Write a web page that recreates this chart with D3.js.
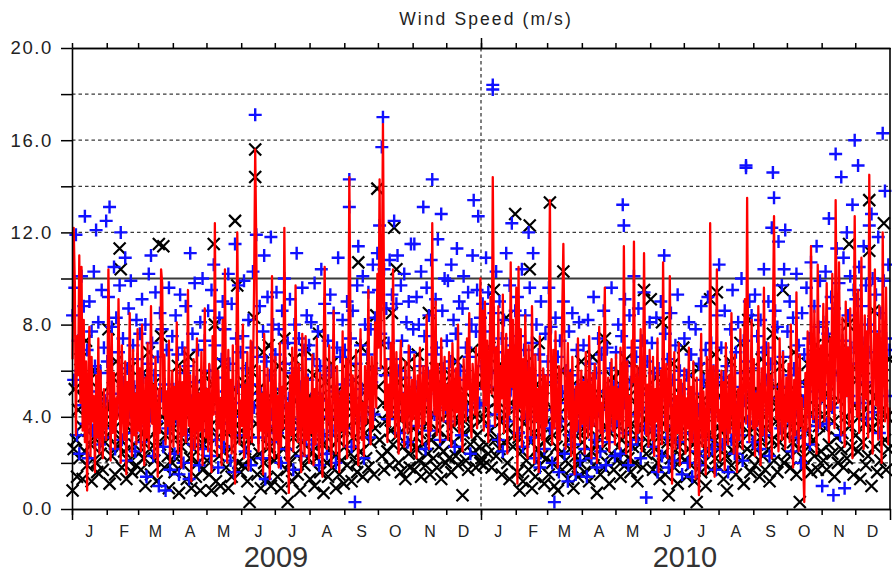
<!DOCTYPE html>
<html>
<head>
<meta charset="utf-8">
<script src="https://cdn.jsdelivr.net/npm/d3@7"></script>
<style>
  body { margin: 0; background: #fff; }
  svg { display: block; }
  text { font-family: "Liberation Sans", Arial, Helvetica, sans-serif; }
</style>
</head>
<body>
<svg id="chart" width="892" height="574"></svg>
<script>
// Daily mean wind speed (m/s), one value per day starting 1 Jan of each year
const speed2009 = [
  6.5,12.2,9.8,3.2,7.5,5.8,11.0,4.6,10.5,3.4,8.2,2.9,6.4,0.8,5.5,7.9,2.3,6.6,3.8,4.9,1.6,5.8,3.1,7.4,2.4,6.0,3.5,2.2,5.2,4.1,3.0,
  4.5,10.4,6.2,2.1,7.6,3.3,5.9,2.6,4.8,3.9,9.1,5.2,2.0,7.1,4.2,3.0,6.4,1.5,5.5,3.6,8.5,4.8,2.3,6.9,3.2,5.0,2.8,7.8,
  3.4,6.1,2.5,8.0,4.4,1.9,5.7,3.1,7.2,2.6,4.9,8.8,3.7,5.4,2.2,6.6,4.0,1.4,5.2,3.3,10.4,9.8,4.1,6.7,2.8,5.1,3.6,7.3,2.0,4.6,6.0,
  2.7,5.3,3.9,8.1,2.4,4.7,6.2,1.8,5.5,3.2,7.0,2.9,4.3,9.5,3.6,5.8,1.2,4.0,6.5,2.6,3.8,7.4,2.1,5.0,3.4,6.8,1.9,4.4,8.7,3.1,
  5.2,2.5,6.3,3.7,1.6,7.5,4.1,12.4,5.0,2.3,6.0,3.5,4.8,1.9,8.2,3.0,10.4,4.4,2.0,6.9,3.3,5.6,2.4,7.1,3.9,1.1,5.3,12.0,6.4,2.8,4.7,
  3.6,8.0,2.2,5.4,3.1,6.8,1.7,4.5,7.3,2.9,5.8,9.6,15.6,11.2,4.0,2.5,6.2,3.4,5.0,1.5,7.6,3.8,2.6,6.1,4.2,1.3,5.5,10.1,3.7,2.2,
  6.6,3.0,4.9,1.8,7.2,2.7,5.3,3.5,12.2,6.0,2.1,4.6,0.7,5.8,3.2,7.0,2.5,4.1,9.7,5.5,2.9,6.3,3.8,1.6,7.6,4.4,2.3,7.5,3.0,5.7,2.0,
  4.8,3.3,6.7,1.9,5.2,2.8,7.4,3.6,2.2,5.9,4.1,1.4,6.4,10.5,5.0,2.6,4.3,7.1,3.1,1.8,5.6,8.6,3.9,2.4,6.2,4.5,1.6,5.1,3.4,7.7,2.7,
  4.0,6.5,2.2,5.3,14.4,8.0,3.1,5.8,2.6,4.7,6.9,3.4,1.9,5.5,7.8,3.0,4.6,2.3,6.2,3.7,5.1,9.5,4.2,2.8,6.6,3.5,5.4,8.1,4.4,10.2,
  7.0,14.3,6.1,9.2,16.7,8.8,4.3,6.5,2.9,5.4,3.6,7.2,4.0,10.4,5.3,3.1,6.8,4.5,2.4,5.9,7.3,3.8,5.0,2.7,6.4,4.2,3.3,7.1,4.8,2.5,5.6,
  3.9,6.7,4.4,2.2,5.8,3.5,7.0,4.9,2.8,6.2,3.7,5.2,8.4,4.0,2.6,6.0,3.4,12.4,5.5,4.1,9.0,3.2,6.3,4.7,2.9,7.4,5.1,3.8,6.6,4.3,
  5.4,3.0,6.8,4.6,2.7,7.2,5.0,3.6,6.1,4.2,8.0,3.3,5.7,4.4,2.5,6.5,4.9,3.8,7.4,5.2,8.5,4.0,3.1,6.3,5.5,4.1,7.0,3.5,5.8,6.9,10.0
];
const speed2010 = [
  5.2,8.6,3.4,9.0,4.5,7.3,2.9,6.4,9.2,5.0,14.4,8.1,3.6,7.0,4.2,8.8,2.6,6.2,4.8,9.3,3.3,5.7,7.6,2.4,6.9,4.1,10.7,5.3,8.2,3.0,6.0,
  9.6,1.1,10.5,4.4,7.8,2.7,6.5,3.9,8.4,5.0,2.2,7.1,4.6,3.2,8.8,5.5,2.0,6.7,3.8,5.2,1.6,7.5,4.3,3.0,6.1,2.5,5.8,3.6,
  4.9,8.0,13.4,5.6,2.8,6.9,3.5,7.7,4.3,1.8,6.2,3.0,5.4,8.5,11.5,6.8,2.6,4.7,7.2,3.9,5.9,2.3,6.6,4.1,1.5,5.3,3.4,7.4,4.6,2.9,6.0,
  3.7,5.5,2.4,6.8,4.0,3.1,7.5,4.8,2.2,5.9,3.6,6.3,4.5,2.0,5.1,7.9,3.3,4.6,2.7,6.1,9.6,4.2,3.0,5.7,2.5,4.9,6.5,3.4,5.3,2.8,
  6.7,3.9,5.2,2.6,7.0,4.3,3.1,11.4,5.8,2.4,6.4,3.6,4.9,2.0,7.3,5.5,11.6,4.0,2.9,6.2,3.3,5.0,7.8,2.5,4.6,11.1,6.0,3.2,5.4,2.7,6.9,
  4.1,3.0,6.6,2.3,5.2,3.8,7.4,1.6,4.7,6.0,2.8,10.7,5.5,3.4,6.3,2.2,4.4,10.1,5.0,1.1,3.7,6.8,2.6,4.9,3.3,7.2,1.9,5.6,3.0,4.2,
  6.1,2.4,4.8,3.5,7.0,1.8,5.3,2.9,6.4,4.0,1.3,5.7,3.2,0.6,4.5,7.6,2.7,5.1,3.6,1.5,6.6,4.2,2.3,12.4,5.0,3.1,6.2,1.4,4.7,10.4,3.8,
  4.3,2.1,6.0,3.4,5.5,1.7,7.2,4.0,2.8,5.8,3.3,8.5,4.6,2.4,6.7,3.9,1.6,5.2,3.0,7.8,4.4,2.6,6.3,9.1,3.7,13.5,5.9,2.9,4.8,8.2,3.5,
  6.5,2.3,5.0,3.6,8.8,4.2,1.9,6.1,3.2,9.6,5.4,2.7,4.6,7.2,3.4,5.8,2.2,8.1,12.7,6.0,3.9,5.1,2.5,7.4,4.5,3.0,6.8,4.0,2.6,5.7,
  3.8,6.3,2.9,8.0,4.4,1.8,5.6,3.2,9.4,5.0,2.5,6.7,3.6,4.8,2.0,0.3,5.9,3.4,7.7,4.6,2.8,11.4,6.2,3.9,8.6,5.2,2.4,10.6,6.4,3.5,7.1,
  4.7,8.9,3.8,6.5,9.8,5.1,2.9,7.4,4.3,10.2,6.0,3.5,13.4,7.8,4.6,10.7,5.5,3.2,8.3,6.1,2.7,9.0,4.9,7.0,3.6,8.7,5.4,2.2,6.8,12.7,
  7.2,4.0,9.5,3.3,6.6,10.9,5.2,2.6,8.4,4.8,7.7,3.1,14.5,9.2,5.8,2.4,6.9,10.4,4.5,7.6,3.0,8.8,5.6,2.0,12.0,6.3,3.8,9.6,5.0,2.8,4.4
];

// Daily readings drawn as black crosses
const cross2009 = [
  0.8,2.6,5.2,3.0,1.4,4.3,2.2,6.5,3.6,1.3,4.9,2.5,7.3,1.9,3.4,5.6,2.8,1.2,4.0,3.1,6.0,2.0,1.6,4.6,3.3,2.4,5.0,1.7,3.8,2.9,4.4,
  3.2,7.8,1.1,4.5,2.3,5.7,3.5,1.5,6.4,2.7,4.1,11.3,3.0,1.8,5.1,2.5,3.9,1.3,4.7,2.1,6.1,3.4,1.6,4.2,2.8,5.3,1.9,3.6,
  2.4,4.8,1.7,3.3,5.9,2.2,1.0,4.4,3.0,6.8,2.6,1.5,3.9,5.4,2.1,4.6,1.2,3.5,11.5,2.8,7.5,4.0,11.4,1.8,3.2,5.0,2.3,0.9,4.3,3.6,2.0,
  4.9,1.6,3.1,2.4,6.2,0.7,3.8,2.7,5.3,1.9,4.1,2.9,1.3,3.4,6.6,2.2,0.9,4.5,2.6,3.7,1.4,5.1,2.0,3.2,0.8,4.6,1.7,2.8,5.8,3.0,
  2.1,4.0,1.5,3.6,0.8,5.4,11.5,8.0,1.2,3.1,4.7,2.3,1.0,3.9,6.3,2.5,4.4,1.8,3.3,0.9,5.0,2.6,1.4,3.5,5.2,12.5,4.2,9.7,2.0,3.0,1.6,
  3.4,1.9,5.5,2.6,4.1,1.2,3.0,0.3,6.0,2.2,4.6,8.3,15.6,3.7,1.5,5.2,2.4,0.9,3.9,6.8,2.0,4.4,1.3,3.2,7.1,2.7,1.0,4.8,3.5,2.1,
  4.5,2.3,1.4,6.2,3.3,0.9,5.0,2.6,7.4,3.8,1.7,0.3,4.2,2.0,5.6,1.2,3.1,6.5,2.4,4.7,1.5,3.6,0.8,5.3,2.9,4.0,1.9,6.9,3.4,2.2,4.9,
  1.3,3.7,2.5,5.8,1.0,4.3,2.2,3.5,7.6,1.6,4.9,2.8,0.7,3.2,5.5,2.0,1.4,4.1,2.6,6.3,1.8,3.9,2.3,0.9,5.1,3.0,1.5,4.5,2.1,3.4,1.1,
  2.7,4.8,1.9,3.6,6.4,2.4,1.2,4.2,3.1,5.6,2.0,1.6,10.7,3.9,2.5,7.0,1.4,4.6,3.3,2.2,5.2,1.8,3.8,2.9,6.1,4.0,1.5,3.5,8.4,13.9,
  5.3,3.0,7.2,2.3,4.6,1.7,3.8,6.0,2.5,4.2,1.9,3.4,8.5,2.8,12.2,4.9,10.4,3.2,2.0,5.5,1.6,3.9,2.7,4.4,1.3,3.6,6.3,2.4,1.8,4.1,2.9,
  3.5,1.7,4.8,2.6,6.7,2.1,3.3,1.4,5.0,2.8,4.3,1.9,3.7,2.4,8.5,1.5,3.0,5.6,2.2,4.1,6.1,1.8,3.4,2.7,4.7,1.3,3.9,2.5,5.3,2.0,
  3.1,4.5,2.2,5.8,1.6,3.6,2.9,4.9,2.3,6.4,1.9,3.8,2.6,4.2,0.6,3.3,5.1,2.1,3.9,1.7,4.6,2.8,3.5,6.9,2.4,4.0,1.8,3.2,5.4,2.7,2.0
];
const cross2010 = [
  2.2,3.9,1.9,5.6,2.8,4.3,2.4,7.0,3.4,1.8,5.2,9.5,3.0,2.3,4.7,6.2,2.6,3.8,1.5,5.0,2.9,4.1,8.3,2.0,3.5,1.3,4.6,6.6,2.7,3.2,12.8,
  4.4,1.6,3.1,0.8,5.9,2.5,1.2,3.7,6.3,2.1,4.0,1.7,12.3,2.9,0.9,4.5,3.3,1.4,5.4,2.6,7.2,1.9,3.6,2.3,4.8,1.1,3.0,2.2,
  3.8,1.5,13.3,4.4,2.0,3.2,1.0,5.6,2.7,0.8,4.1,2.4,6.0,1.7,10.3,3.5,2.1,4.9,1.3,3.0,2.6,5.3,1.8,0.9,3.9,2.3,4.6,1.4,3.3,2.0,6.4,
  2.9,4.7,1.6,3.4,2.2,5.5,1.2,3.8,2.5,6.6,1.9,4.2,2.8,0.7,3.1,5.0,1.5,2.6,4.5,1.8,7.4,3.6,2.0,4.8,1.1,3.3,2.4,5.7,1.7,3.9,
  4.3,2.1,3.6,5.9,1.4,3.0,2.5,4.6,1.9,6.5,3.3,2.2,4.9,1.6,3.7,2.7,5.4,2.0,3.2,1.2,4.4,2.8,6.0,3.5,1.8,9.5,3.9,2.4,5.1,2.9,4.0,
  9.1,3.4,1.7,4.8,2.6,5.7,2.0,3.1,1.3,4.3,8.1,2.4,3.7,1.5,5.2,2.9,0.6,4.0,2.2,3.5,6.3,1.8,3.0,4.6,1.1,2.7,5.0,2.3,3.8,7.0,
  2.1,4.5,1.4,3.3,2.6,5.8,1.9,3.9,2.8,1.2,4.2,0.3,3.0,6.1,2.4,1.6,4.7,2.0,3.6,1.0,5.4,2.5,3.2,9.1,1.7,4.4,2.9,6.7,2.2,9.4,3.5,
  1.8,4.9,2.7,3.4,1.3,5.6,2.3,0.8,4.1,3.0,6.4,1.9,3.7,2.5,5.0,1.5,4.3,2.8,3.6,7.2,2.1,4.6,1.1,3.9,5.8,2.6,8.2,3.3,1.6,4.8,2.4,
  3.6,1.9,5.2,2.8,4.4,1.4,3.1,6.5,2.3,4.0,1.7,3.5,5.7,2.6,1.2,4.7,3.0,7.6,2.1,5.3,3.8,1.6,4.5,2.9,6.2,3.4,9.5,2.0,4.1,3.2,
  2.4,5.1,3.7,1.8,4.6,2.9,6.8,3.3,1.5,4.2,2.6,0.3,3.9,5.5,2.2,4.8,1.9,3.4,6.3,2.7,4.1,1.6,5.7,3.0,2.3,7.1,4.4,1.7,3.6,5.2,2.5,
  4.0,2.1,6.5,3.5,1.7,5.0,2.8,4.3,7.4,2.4,3.8,1.4,5.9,3.1,2.0,4.7,6.9,2.6,3.3,1.8,5.3,4.0,2.2,8.0,11.5,3.6,2.7,6.2,1.5,4.5,
  3.2,5.6,2.5,7.0,1.3,4.1,2.9,6.1,3.7,1.9,5.2,2.3,13.4,4.6,1.0,3.5,8.6,2.7,4.9,1.6,3.8,6.7,2.1,4.3,5.8,12.4,3.0,1.7,4.0,2.6,6.5
];
// Second readings on a few days: [day of record, speed]
const crossExtra = [[43, 10.4], [163, 14.4], [408, 10.4], [711, 11.2]];

// Daily readings drawn as blue plus signs
const plus2009 = [
  8.4,5.6,9.6,11.9,3.2,7.3,2.4,6.0,10.1,4.5,8.8,12.7,3.7,6.9,2.2,9.0,5.1,7.7,3.4,10.3,6.2,12.1,4.0,8.1,2.8,5.9,9.5,3.1,7.0,4.7,12.5,
  6.4,9.2,13.1,3.5,7.9,5.0,10.5,2.6,8.3,4.4,6.8,9.7,12.0,3.0,7.4,5.5,10.9,2.1,6.1,8.7,4.2,9.9,3.3,7.1,5.3,2.5,8.2,6.5,
  4.6,7.6,2.9,9.1,5.7,3.6,8.0,1.4,6.3,10.2,4.1,11.0,7.2,2.3,5.8,9.4,3.8,6.6,1.0,8.5,4.9,7.8,2.7,5.4,0.8,6.9,3.5,9.6,1.7,4.8,7.5,
  5.2,2.4,8.4,3.9,6.7,1.5,9.3,4.3,7.0,2.0,5.9,8.8,3.2,6.2,1.3,11.1,4.7,7.6,2.8,9.8,5.5,3.6,6.9,1.9,8.1,4.4,10.0,2.6,7.3,5.0,
  3.4,8.6,6.0,2.3,9.5,4.9,10.6,7.1,3.0,5.7,1.8,8.3,4.2,6.5,9.0,2.7,7.8,5.1,3.7,10.2,6.3,2.1,8.9,4.6,1.6,11.5,7.4,5.3,9.7,3.2,6.8,
  4.0,7.5,9.9,2.5,6.1,3.8,8.2,5.4,1.9,7.0,10.3,4.4,17.1,11.9,6.6,3.1,8.8,5.0,2.2,7.7,11.0,1.3,6.4,9.2,3.6,5.8,11.8,4.1,8.0,2.9,
  6.7,9.4,3.3,7.8,5.2,2.0,8.6,4.5,10.0,6.3,2.6,7.2,4.8,9.1,3.5,5.9,1.7,8.0,6.1,11.1,3.9,7.4,5.3,2.3,9.6,4.2,6.9,3.0,8.4,5.6,7.1,
  4.3,8.1,2.8,6.5,9.8,3.6,5.0,7.7,1.9,6.2,10.4,4.7,3.2,8.9,5.8,2.4,7.3,4.0,9.3,6.0,3.4,8.5,5.1,2.0,7.0,10.9,4.6,6.6,3.7,8.2,5.4,
  6.9,3.5,9.0,5.6,14.3,7.4,2.7,8.6,4.8,0.3,6.3,9.7,11.4,3.9,7.1,5.2,10.1,2.2,8.0,4.4,6.7,9.4,3.1,7.8,5.5,10.6,4.1,8.3,6.1,11.1,
  9.5,12.3,7.6,15.7,17.0,10.4,5.8,8.7,3.9,7.2,10.8,5.0,9.3,6.5,12.5,4.2,8.9,11.0,6.0,3.3,9.7,7.3,4.8,10.2,5.7,8.1,2.9,9.0,6.8,11.5,4.5,
  7.8,11.5,5.3,9.2,3.6,8.0,6.2,10.3,4.7,13.1,7.5,2.6,9.6,5.9,8.4,3.4,10.8,14.3,6.7,4.1,9.1,7.0,11.7,5.0,3.0,12.8,8.6,6.1,10.0,4.4,
  7.3,9.9,3.8,6.4,10.6,5.1,8.2,2.7,7.6,11.3,4.9,9.0,6.0,3.2,8.7,10.1,5.6,7.0,4.3,9.4,6.6,2.4,8.0,11.0,13.4,5.2,7.7,9.5,12.7,4.6,8.3
];
const plus2010 = [
  6.2,8.9,4.5,7.7,10.9,5.3,9.4,3.6,7.0,5.9,18.4,8.5,4.1,10.3,6.8,3.0,9.0,5.6,7.4,2.5,8.2,4.9,11.1,6.5,3.8,9.7,5.2,12.4,7.1,4.4,8.6,
  5.7,9.2,3.3,7.5,4.8,10.4,2.7,6.9,8.4,4.0,6.1,12.0,9.6,3.1,7.2,11.1,5.0,2.2,8.0,4.6,6.7,1.8,9.0,3.9,5.8,2.6,7.6,4.3,
  6.4,9.6,3.5,7.9,2.0,5.5,0.3,8.3,4.2,6.6,1.6,7.3,3.8,5.1,9.0,2.4,6.0,4.6,1.2,7.7,3.2,5.8,8.5,2.8,4.9,1.5,6.9,3.6,8.1,2.1,5.4,
  4.0,7.1,2.6,5.6,1.4,8.2,3.7,6.3,2.2,4.8,9.2,3.0,5.9,1.8,7.4,4.3,2.5,6.7,3.4,8.6,5.1,1.9,7.0,4.5,2.9,6.1,9.6,3.6,5.3,2.3,
  6.8,3.9,8.0,5.2,2.4,7.5,13.2,4.6,9.1,3.3,6.2,1.9,8.4,5.5,2.8,7.0,10.1,4.1,6.6,3.0,8.7,5.8,2.2,7.3,4.4,9.4,3.5,0.5,6.4,5.0,8.1,
  4.3,7.2,2.7,5.9,3.4,8.3,1.6,6.1,4.0,9.0,2.3,5.4,11.0,7.6,3.1,6.5,1.8,4.7,8.5,3.6,5.6,2.1,7.1,4.5,9.3,2.9,6.0,3.8,1.5,5.2,
  7.4,3.3,5.8,2.0,8.1,4.6,6.7,1.4,5.0,3.2,7.8,2.5,4.3,6.3,1.9,8.8,3.7,5.6,2.3,6.9,4.2,9.2,3.0,5.3,7.2,2.6,6.0,4.8,1.7,8.4,5.5,
  10.6,4.0,7.0,2.8,5.7,8.6,3.5,6.2,1.6,4.9,7.8,3.0,9.5,5.3,2.4,6.8,4.4,8.1,3.2,5.9,10.0,2.1,7.3,4.7,14.8,6.4,3.8,9.0,5.1,8.4,2.9,
  6.1,9.3,3.7,7.5,5.0,2.6,8.2,4.3,6.8,10.4,3.2,7.0,5.6,9.0,2.3,6.3,12.2,14.6,13.5,8.6,4.8,7.9,11.6,5.3,3.5,9.7,6.6,10.4,12.1,4.5,
  7.7,3.9,9.0,5.8,2.5,8.3,6.1,4.2,10.2,3.1,7.1,5.3,2.0,8.5,4.7,6.7,3.4,9.6,5.5,7.4,2.8,10.7,6.2,4.0,8.8,5.1,11.4,3.6,7.9,9.9,4.8,
  1.0,8.1,5.4,10.3,3.7,7.6,12.6,6.0,9.2,4.4,0.6,8.7,15.4,11.3,5.8,9.8,3.2,14.4,7.3,10.9,0.9,6.5,12.0,8.4,4.9,10.1,7.0,13.2,9.5,16.0,
  9.1,6.3,14.9,10.5,4.6,8.8,7.2,11.4,5.5,9.7,3.9,8.0,12.3,6.8,12.8,10.0,4.2,7.7,9.3,5.7,11.8,3.3,8.5,6.2,16.3,9.9,13.8,7.4,4.9,10.6,6.9
];
const plusExtra = [[247, 13.1], [375, 18.2], [492, 12.3], [601, 14.9]];

const monthLetters = ["J", "F", "M", "A", "M", "J", "J", "A", "S", "O", "N", "D"];
const yearLabels = ["2009", "2010"];
const speedTicks = [0, 2, 4, 6, 8, 10, 12, 14, 16, 18, 20];
const chartTitle = "Wind Speed (m/s)";

// ---- layout ----
const plot = { left: 72, right: 890, top: 48, bottom: 509 };
const svg = d3.select("#chart");

const dayDate = i => new Date(Date.UTC(2009, 0, 1 + i, 12));
const x = d3.scaleUtc()
  .domain([new Date(Date.UTC(2009, 0, 1)), new Date(Date.UTC(2011, 0, 1))])
  .range([plot.left, plot.right]);
const y = d3.scaleLinear().domain([0, 20]).range([plot.bottom, plot.top]);

const toPoints = arr => {
  const out = [];
  for (let i = 0; i < arr.length; i++) if (arr[i] != null) out.push({ t: dayDate(i), v: arr[i] });
  return out;
};
const speedPts = toPoints(speed2009.concat(speed2010));
const crossPts = toPoints(cross2009.concat(cross2010))
  .concat(crossExtra.map(([d, v]) => ({ t: dayDate(d), v })));
const plusPts = toPoints(plus2009.concat(plus2010))
  .concat(plusExtra.map(([d, v]) => ({ t: dayDate(d), v })));

// ---- grid ----
const grid = svg.append("g");
grid.selectAll("line.h")
  .data(speedTicks.filter(v => v > 0 && v < 20))
  .join("line")
  .attr("x1", plot.left).attr("x2", plot.right)
  .attr("y1", d => y(d)).attr("y2", d => y(d))
  .attr("stroke", "#3a3a3a")
  .attr("stroke-width", d => d === 10 ? 1.8 : 1.3)
  .attr("stroke-dasharray", d => d === 10 ? null : "3.5,3");
grid.append("line")
  .attr("x1", x(new Date(Date.UTC(2010, 0, 1)))).attr("x2", x(new Date(Date.UTC(2010, 0, 1))))
  .attr("y1", plot.top).attr("y2", plot.bottom)
  .attr("stroke", "#3a3a3a").attr("stroke-width", 1.3).attr("stroke-dasharray", "3.5,3");

// ---- markers ----
svg.append("g").selectAll("path")
  .data(crossPts)
  .join("path")
  .attr("transform", d => `translate(${x(d.t)},${y(d.v)})`)
  .attr("d", "M-6,-6L6,6M-6,6L6,-6")
  .attr("stroke", "#000").attr("stroke-width", 2.2).attr("fill", "none");

svg.append("g").selectAll("path")
  .data(plusPts)
  .join("path")
  .attr("transform", d => `translate(${x(d.t)},${y(d.v)})`)
  .attr("d", "M-6.5,0H6.5M0,-6.5V6.5")
  .attr("stroke", "#1010ff").attr("stroke-width", 2.4).attr("fill", "none");

// ---- daily mean line ----
svg.append("path")
  .datum(speedPts)
  .attr("d", d3.line().x(d => x(d.t)).y(d => y(d.v)))
  .attr("fill", "none").attr("stroke", "#ff0000").attr("stroke-width", 2.3)
  .attr("stroke-linejoin", "round");

// ---- axes ----
const styleAxis = g => {
  g.selectAll("path.domain").attr("stroke", "#000").attr("stroke-width", 1.6);
  g.selectAll(".tick line").attr("stroke", "#000").attr("stroke-width", 1.5);
};

svg.append("g")
  .attr("transform", `translate(${plot.left},0)`)
  .call(d3.axisLeft(y).tickValues(speedTicks).tickSize(11).tickSizeOuter(0).tickPadding(8)
    .tickFormat(d => d % 4 === 0 ? d3.format(".1f")(d) : ""))
  .call(styleAxis)
  .call(g => g.selectAll("text").attr("font-size", 18.5).attr("fill", "#222")
    .attr("letter-spacing", 1.6).attr("font-family", "Liberation Sans, Arial, sans-serif"));

const monthStarts = d3.utcMonth.range(new Date(Date.UTC(2009, 0, 1)), new Date(Date.UTC(2011, 0, 1)));
const yearStarts = [0, 1, 2].map(k => new Date(Date.UTC(2009 + k, 0, 1)));

svg.append("g")
  .attr("transform", `translate(0,${plot.bottom})`)
  .call(d3.axisBottom(x).tickValues(monthStarts).tickSize(6).tickSizeOuter(0).tickFormat(""))
  .call(styleAxis);
svg.append("g")
  .attr("transform", `translate(0,${plot.bottom})`)
  .call(d3.axisBottom(x).tickValues(yearStarts).tickSize(11).tickSizeOuter(0).tickFormat(""))
  .call(styleAxis);

svg.append("g")
  .attr("transform", `translate(0,${plot.top})`)
  .call(d3.axisTop(x).tickValues(monthStarts).tickSize(5).tickSizeOuter(0).tickFormat(""))
  .call(styleAxis);
svg.append("g")
  .attr("transform", `translate(0,${plot.top})`)
  .call(d3.axisTop(x).tickValues([yearStarts[1]]).tickSize(10).tickSizeOuter(0).tickFormat(""))
  .call(styleAxis);

svg.append("line")
  .attr("x1", plot.right).attr("x2", plot.right)
  .attr("y1", plot.top).attr("y2", plot.bottom)
  .attr("stroke", "#000").attr("stroke-width", 1.6);

// month initials centred in each month
const monthMids = monthStarts.map(d => new Date(d.getTime() + 15 * 864e5));
svg.append("g")
  .attr("transform", `translate(0,${plot.bottom})`)
  .call(d3.axisBottom(x).tickValues(monthMids).tickSize(0).tickPadding(17)
    .tickFormat(d => monthLetters[d.getUTCMonth()]))
  .call(g => g.select("path.domain").remove())
  .call(g => g.selectAll("text").attr("font-size", 16).attr("fill", "#222")
    .attr("font-family", "Liberation Sans, Arial, sans-serif"));

// year labels
svg.append("g").selectAll("text")
  .data(yearLabels)
  .join("text")
  .attr("x", (d, i) => x(new Date(Date.UTC(2009 + i, 6, 2))))
  .attr("y", 567)
  .attr("text-anchor", "middle")
  .attr("font-size", 29)
  .attr("fill", "#333")
  .text(d => d);

// title
svg.append("text")
  .attr("x", 486).attr("y", 25)
  .attr("text-anchor", "middle")
  .attr("font-size", 17.5)
  .attr("letter-spacing", 2.1)
  .attr("fill", "#222")
  .text(chartTitle);
</script>
</body>
</html>
